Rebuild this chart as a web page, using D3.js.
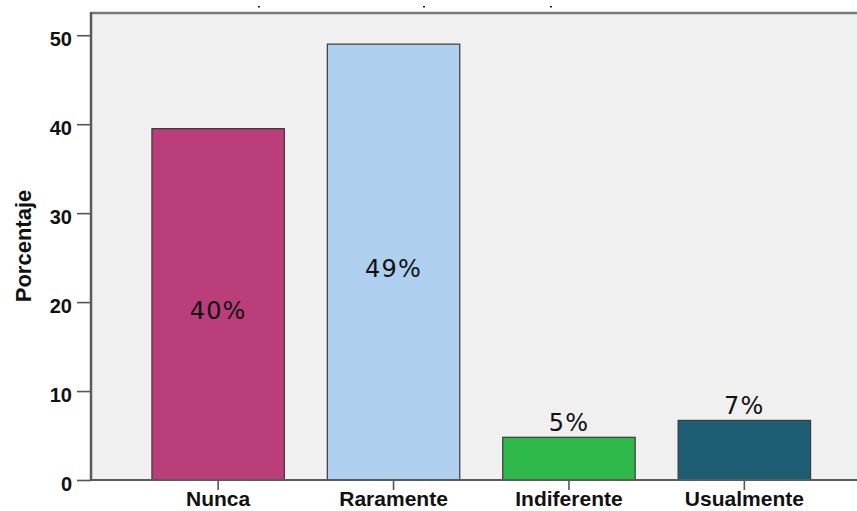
<!DOCTYPE html>
<html>
<head>
<meta charset="utf-8">
<script src="https://cdn.jsdelivr.net/npm/d3@7/dist/d3.min.js"></script>
<style>
  html, body { margin: 0; padding: 0; background: #ffffff; overflow: hidden; }
  svg { display: block; }
</style>
</head>
<body>
<svg id="chart" width="857" height="511"></svg>
<script>
// Frequency of responses, in percent
const categories = ["Nunca", "Raramente", "Indiferente", "Usualmente"];
const percentages = [39.5, 49.0, 4.8, 6.7];
const barColors = ["#b93e7a", "#aecfed", "#2eb84a", "#1d5e75"];
const yTicks = [0, 10, 20, 30, 40, 50];
const yTitle = "Porcentaje";

const svg = d3.select("#chart");

// Plot frame
const frame = { left: 91, top: 13, bottom: 480, right: 860 };

const y = d3.scaleLinear().domain([0, 52.5]).range([frame.bottom, frame.top]);
const x = d3.scaleBand()
  .domain(categories)
  .range([130, 832.5])
  .paddingInner(0.245)
  .paddingOuter(0.125);

// Background panel
svg.append("rect")
  .attr("x", frame.left).attr("y", frame.top)
  .attr("width", frame.right - frame.left).attr("height", frame.bottom - frame.top)
  .attr("fill", "#f0f0f0");

// Top frame line
svg.append("line")
  .attr("x1", frame.left).attr("x2", frame.right)
  .attr("y1", frame.top).attr("y2", frame.top)
  .attr("stroke", "#7a7a7a").attr("stroke-width", 2.5);

// Remnants of the clipped heading
[259, 424, 551].forEach(cx => {
  svg.append("rect").attr("x", cx - 1).attr("y", 6).attr("width", 2).attr("height", 1.5).attr("fill", "#222");
});

// Bars
svg.append("g").selectAll("rect")
  .data(categories)
  .join("rect")
  .attr("x", d => x(d))
  .attr("y", (d, i) => y(percentages[i]))
  .attr("width", x.bandwidth())
  .attr("height", (d, i) => y(0) - y(percentages[i]))
  .attr("fill", (d, i) => barColors[i])
  .attr("stroke", "#3a3a3a")
  .attr("stroke-width", 1.2);

// Value labels
const fmt = v => Math.round(v) + "%";
svg.append("g").selectAll("text")
  .data(categories)
  .join("text")
  .attr("x", d => x(d) + x.bandwidth() / 2)
  .attr("y", (d, i) => {
    const v = percentages[i];
    const h = y(0) - y(v);
    return h > 60 ? y(v / 2) + 14.5 : y(v) - 6.5;
  })
  .attr("text-anchor", "middle")
  .attr("font-family", "DejaVu Sans, sans-serif")
  .attr("font-size", 24)
  .attr("letter-spacing", 1.2)
  .attr("fill", "#111")
  .text((d, i) => fmt(percentages[i]));

// Y axis
const yAxis = svg.append("g")
  .attr("transform", `translate(${frame.left},0)`)
  .call(d3.axisLeft(y).tickValues(yTicks).tickSize(14).tickPadding(5).tickSizeOuter(0));
yAxis.select(".domain").remove();
yAxis.selectAll(".tick line").attr("stroke", "#555").attr("stroke-width", 1.6);
yAxis.selectAll(".tick text")
  .attr("dy", "0.53em")
  .attr("font-family", "Liberation Sans, Arial, sans-serif")
  .attr("font-weight", "bold")
  .attr("font-size", 20)
  .attr("fill", "#111");
svg.append("line")
  .attr("x1", frame.left).attr("x2", frame.left)
  .attr("y1", frame.top - 1).attr("y2", frame.bottom)
  .attr("stroke", "#5a5a5a").attr("stroke-width", 2.5);

// X axis
const xAxis = svg.append("g")
  .attr("transform", `translate(0,${frame.bottom})`)
  .call(d3.axisBottom(x).tickSize(10).tickSizeOuter(0));
xAxis.select(".domain").remove();
xAxis.selectAll(".tick line").attr("stroke", "#555").attr("stroke-width", 1.6);
xAxis.selectAll(".tick text")
  .attr("y", 26).attr("dy", 0)
  .attr("font-family", "Liberation Sans, Arial, sans-serif")
  .attr("font-weight", "bold")
  .attr("font-size", 21)
  .attr("fill", "#111");
svg.append("line")
  .attr("x1", frame.left).attr("x2", frame.right)
  .attr("y1", frame.bottom).attr("y2", frame.bottom)
  .attr("stroke", "#5a5a5a").attr("stroke-width", 2);

// Y axis title
svg.append("text")
  .attr("transform", `translate(31,246) rotate(-90)`)
  .attr("text-anchor", "middle")
  .attr("font-family", "Liberation Sans, Arial, sans-serif")
  .attr("font-weight", "bold")
  .attr("font-size", 22)
  .attr("fill", "#111")
  .text(yTitle);
</script>
</body>
</html>
